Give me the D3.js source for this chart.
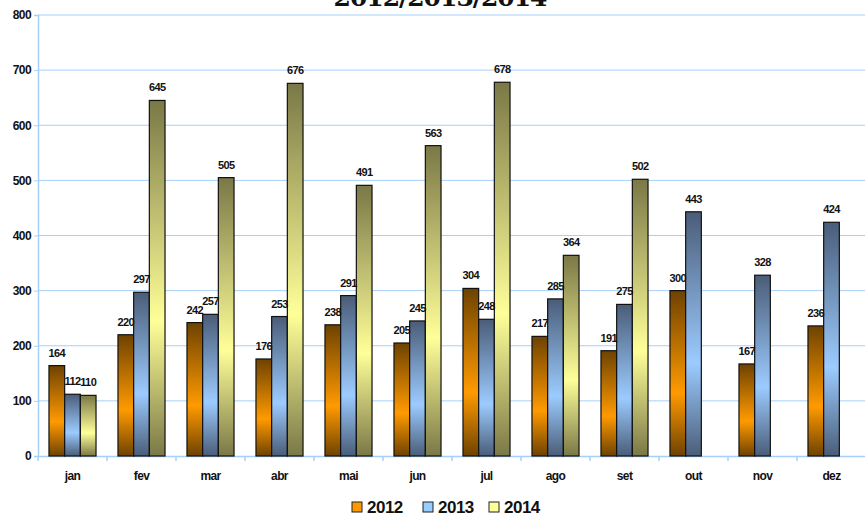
<!DOCTYPE html>
<html><head><meta charset="utf-8">
<script src="https://cdn.jsdelivr.net/npm/d3@7"></script>
<style>body{margin:0;background:#fff}svg{display:block}</style>
</head><body><svg id="c" width="865" height="517"></svg>
<script>
const months = ["jan","fev","mar","abr","mai","jun","jul","ago","set","out","nov","dez"];
const seriesNames = ["2012","2013","2014"];
const v2012 = [164,220,242,176,238,205,304,217,191,300,167,236];
const v2013 = [112,297,257,253,291,245,248,285,275,443,328,424];
const v2014 = [110,645,505,676,491,563,678,364,502,null,null,null];
const yTicks = [0,100,200,300,400,500,600,700,800];
const title = "2012/2013/2014";

const svg = d3.select("#c");
const m = {l:38, r:-1, t:15, b:61};
const W = 865, H = 517;
const x = d3.scaleBand().domain(months).range([m.l, W - m.r]).paddingInner(0).paddingOuter(0);
const xs = d3.scaleBand().domain(seriesNames).range([0, x.bandwidth()]).paddingInner(0).paddingOuter(0.7);
const y = d3.scaleLinear().domain([0,800]).range([H - m.b, m.t]);

const defs = svg.append("defs");
const grads = {
  "2012": ["#6e4200","#ff9a00","#6e4200"],
  "2013": ["#4a5d78","#9ccbff","#4a5d78"],
  "2014": ["#7a7846","#ffff99","#7a7846"]
};
const legendCols = {"2012":"#ff9900","2013":"#99ccff","2014":"#ffff99"};
seriesNames.forEach((s,i)=>{
  const g = defs.append("linearGradient").attr("id","g"+i).attr("x1",0).attr("y1",0).attr("x2",0).attr("y2",1);
  g.append("stop").attr("offset","0%").attr("stop-color",grads[s][0]);
  g.append("stop").attr("offset","62%").attr("stop-color",grads[s][1]);
  g.append("stop").attr("offset","100%").attr("stop-color",grads[s][2]);
});

// grid
svg.append("g").selectAll("line").data(yTicks.slice(1)).join("line")
  .attr("x1", m.l).attr("x2", W).attr("y1", d=>y(d)).attr("y2", d=>y(d))
  .attr("stroke","#a6d0fa").attr("stroke-width",1);

// y axis
const ya = svg.append("g").attr("transform",`translate(${m.l},0)`)
  .call(d3.axisLeft(y).tickValues(yTicks).tickSize(4).tickPadding(3));
ya.select(".domain").attr("stroke","#a6d0fa").attr("stroke-width",1.5);
ya.selectAll(".tick line").attr("stroke","#a6d0fa");
ya.selectAll("text").attr("font-family","Liberation Sans, Arial").attr("font-weight","bold")
  .attr("font-size",12).attr("letter-spacing","-0.6").attr("fill","#111");

// x axis
const xa = svg.append("g").attr("transform",`translate(0,${y(0)})`)
  .call(d3.axisBottom(x).tickSize(0).tickPadding(15));
xa.select(".domain").attr("stroke","#a6d0fa").attr("stroke-width",1.5);
xa.selectAll("text").attr("font-family","Liberation Sans, Arial").attr("font-weight","bold")
  .attr("font-size",12).attr("letter-spacing","-0.6").attr("fill","#111");
xa.append("g").selectAll("line").data(months).join("line")
  .attr("x1", d=>x(d)).attr("x2", d=>x(d)).attr("y1",0).attr("y2",5)
  .attr("stroke","#a6d0fa").attr("stroke-width",1.5);

// bars
const vals = [v2012, v2013, v2014];
const data = [];
months.forEach((mo,i)=>seriesNames.forEach((s,j)=>{ if(vals[j][i]!=null) data.push({mo,s,j,v:vals[j][i]}); }));
svg.append("g").selectAll("rect").data(data).join("rect")
  .attr("x", d=>x(d.mo)+xs(d.s)).attr("width", xs.bandwidth())
  .attr("y", d=>y(d.v)).attr("height", d=>y(0)-y(d.v))
  .attr("fill", d=>`url(#g${d.j})`).attr("stroke","#111").attr("stroke-width",1.2);

svg.append("g").selectAll("text").data(data).join("text")
  .attr("x", d=>x(d.mo)+xs(d.s)+xs.bandwidth()/2).attr("y", d=>y(d.v)-9)
  .attr("text-anchor","middle").attr("font-family","Liberation Sans, Arial").attr("font-weight","bold")
  .attr("font-size",11).attr("letter-spacing","-0.6").attr("fill","#111").text(d=>d.v);

// title
svg.append("text").attr("x",440).attr("y",6).attr("text-anchor","middle")
  .attr("font-family","DejaVu Serif").attr("font-weight","bold").attr("font-size",25)
  .attr("letter-spacing","-1").attr("fill","#111").text(title);

// legend
const lx = [352, 423, 489];
const lg = svg.append("g");
seriesNames.forEach((s,i)=>{
  lg.append("rect").attr("x",lx[i]).attr("y",502).attr("width",10).attr("height",10)
    .attr("fill",legendCols[s]).attr("stroke","#222").attr("stroke-width",1);
  lg.append("text").attr("x",lx[i]+15).attr("y",513).attr("font-family","Liberation Sans, Arial")
    .attr("font-weight","bold").attr("font-size",17).attr("letter-spacing","-0.5").attr("fill","#111").text(s);
});
</script></body></html>
